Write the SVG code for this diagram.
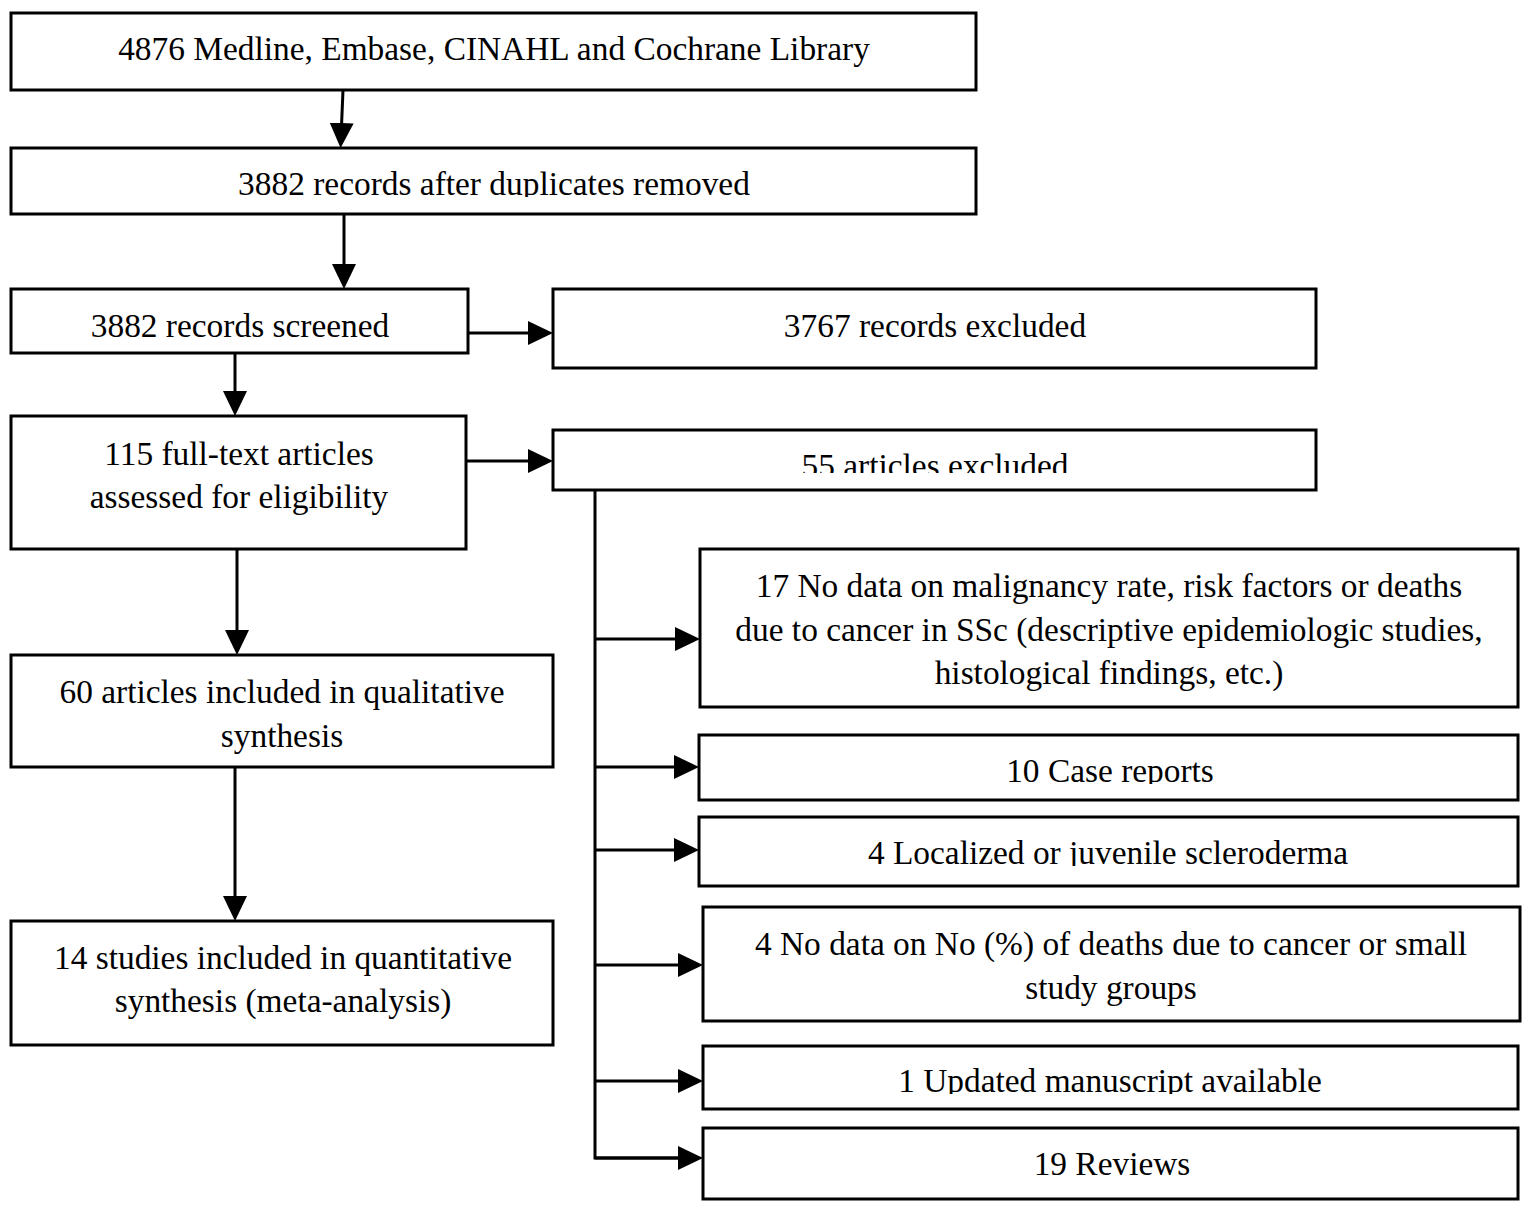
<svg xmlns="http://www.w3.org/2000/svg" width="1538" height="1208" viewBox="0 0 1538 1208">
<style>
.box{fill:#fff;stroke:#000;stroke-width:3}
.t{font-family:"Liberation Serif","Times New Roman",serif;font-size:33.4px;fill:#000;text-anchor:middle}
.c{stroke:#000;stroke-width:3;fill:none}
.a{marker-end:url(#ah)}
</style>
<defs>
<marker id="ah" viewBox="0 0 25 24" refX="15" refY="12" markerWidth="25" markerHeight="24" markerUnits="userSpaceOnUse" orient="auto">
<path d="M0,0 L25,12 L0,24 z" fill="#000"/>
</marker>
<clipPath id="cp2"><rect x="0" y="0" width="1538" height="197"/></clipPath>
<clipPath id="cp6"><rect x="0" y="0" width="1538" height="473"/></clipPath>
<clipPath id="cp8"><rect x="0" y="0" width="1538" height="784"/></clipPath>
<clipPath id="cp9"><rect x="0" y="0" width="1538" height="866"/></clipPath>
<clipPath id="cp11"><rect x="0" y="0" width="1538" height="1094"/></clipPath>
</defs>
<rect width="1538" height="1208" fill="#fff"/>
<g id="connectors">
<line class="c a" x1="343" y1="90" x2="341" y2="138"/>
<line class="c a" x1="344" y1="214" x2="344" y2="279"/>
<line class="c a" x1="468" y1="333" x2="543" y2="333"/>
<line class="c a" x1="235" y1="353" x2="235" y2="406"/>
<line class="c a" x1="466" y1="461" x2="543" y2="461"/>
<line class="c a" x1="237" y1="549" x2="237" y2="645"/>
<line class="c a" x1="235" y1="767" x2="235" y2="911"/>
<polyline class="c" points="595,490 595,1158 690,1158"/>
<line class="c a" x1="595" y1="639" x2="690" y2="639"/>
<line class="c a" x1="595" y1="767" x2="689" y2="767"/>
<line class="c a" x1="595" y1="850" x2="689" y2="850"/>
<line class="c a" x1="595" y1="965" x2="693" y2="965"/>
<line class="c a" x1="595" y1="1081" x2="693" y2="1081"/>
<line class="c a" x1="595" y1="1158" x2="693" y2="1158"/>
</g>
<g id="n1"><rect class="box" x="11" y="13" width="965" height="77"/><text class="t" x="494" y="60">4876 Medline, Embase, CINAHL and Cochrane Library</text></g>
<g id="n2"><rect class="box" x="11" y="148" width="965" height="66"/><text class="t" x="494" y="195" clip-path="url(#cp2)">3882 records after duplicates removed</text></g>
<g id="n3"><rect class="box" x="11" y="289" width="457" height="64"/><text class="t" x="240" y="337">3882 records screened</text></g>
<g id="n4"><rect class="box" x="553" y="289" width="763" height="79"/><text class="t" x="935" y="337">3767 records excluded</text></g>
<g id="n5"><rect class="box" x="11" y="416" width="455" height="133"/><text class="t" x="239" y="465">115 full-text articles</text><text class="t" x="239" y="508">assessed for eligibility</text></g>
<g id="n6"><rect class="box" x="553" y="430" width="763" height="60"/><text class="t" x="935" y="477" clip-path="url(#cp6)">55 articles excluded</text></g>
<g id="n7"><rect class="box" x="700" y="549" width="818" height="158"/><text class="t" x="1109" y="597">17 No data on malignancy rate, risk factors or deaths</text><text class="t" x="1109" y="641">due to cancer in SSc (descriptive epidemiologic studies,</text><text class="t" x="1109" y="684">histological findings, etc.)</text></g>
<g id="n8"><rect class="box" x="699" y="735" width="819" height="65"/><text class="t" x="1110" y="782" clip-path="url(#cp8)">10 Case reports</text></g>
<g id="n9"><rect class="box" x="699" y="817" width="819" height="69"/><text class="t" x="1108" y="864" clip-path="url(#cp9)">4 Localized or juvenile scleroderma</text></g>
<g id="n10"><rect class="box" x="703" y="907" width="817" height="114"/><text class="t" x="1111" y="955">4 No data on No (%) of deaths due to cancer or small</text><text class="t" x="1111" y="999">study groups</text></g>
<g id="n11"><rect class="box" x="703" y="1046" width="815" height="63"/><text class="t" x="1110" y="1092" clip-path="url(#cp11)">1 Updated manuscript available</text></g>
<g id="n12"><rect class="box" x="703" y="1128" width="815" height="71"/><text class="t" x="1112" y="1175">19 Reviews</text></g>
<g id="n13"><rect class="box" x="11" y="655" width="542" height="112"/><text class="t" x="282" y="703">60 articles included in qualitative</text><text class="t" x="282" y="747">synthesis</text></g>
<g id="n14"><rect class="box" x="11" y="921" width="542" height="124"/><text class="t" x="283" y="969">14 studies included in quantitative</text><text class="t" x="283" y="1012">synthesis (meta-analysis)</text></g>
</svg>
